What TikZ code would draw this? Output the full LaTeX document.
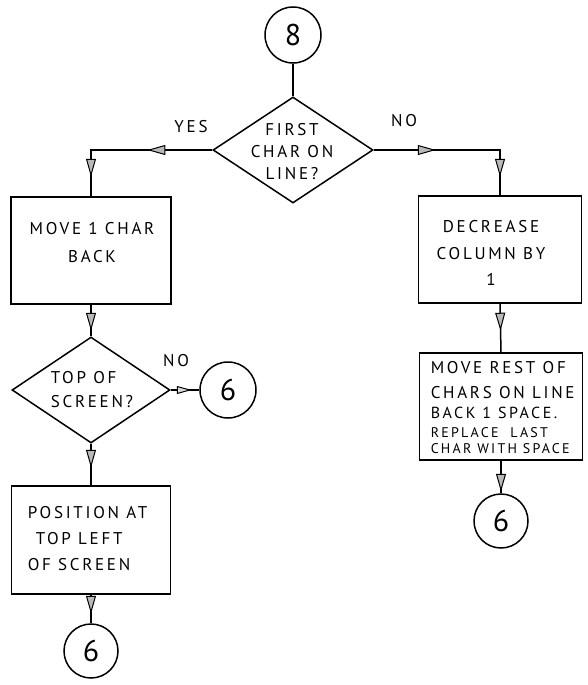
\documentclass[tikz,border=0pt]{standalone}
\usepackage{fontspec}
\setmainfont{PT Sans}[LetterSpace=16]
\usetikzlibrary{shapes.geometric,arrows.meta,decorations.markings}

\tikzset{
  flowtip/.tip={Triangle[length=18pt,width=10pt,line width=1pt,fill=gray!55]},
  smalltip/.tip={Triangle[length=15pt,width=8pt,line width=1pt,fill=gray!30]},
  procbox/.style={draw, rectangle, inner sep=0pt},
  decision/.style={draw, diamond, inner sep=0pt},
  connector/.style={draw, circle, inner sep=0pt, minimum size=#1,
    font=\fontsize{30}{30}\selectfont},
  lettering/.style={inner sep=0pt, font=\fontsize{17}{#1}\selectfont},
  lettering/.default=26pt,
  tag/.style={inner sep=0pt, font=\fontsize{17}{17}\selectfont},
  flow/.style={draw},
  tipat/.style={postaction={decorate},
    decoration={markings, mark=at position #1 with {\arrow{flowtip}}}},
  smalltipat/.style={postaction={decorate},
    decoration={markings, mark=at position #1 with {\arrow{smalltip}}}},
  twotips/.style 2 args={postaction={decorate},
    decoration={markings,
      mark=at position #1 with {\arrow{flowtip}},
      mark=at position #2 with {\arrow{flowtip}}}},
}

\begin{document}
\begin{tikzpicture}[x=1pt, y=-1pt, line width=1.5pt]
  \useasboundingbox (0,0) rectangle (587,685);

  % entry connector and first decision
  \node[connector=56pt] (c8) at (293,35) {8};
  \node[decision, minimum width=160pt, minimum height=106pt] (d1) at (293,150) {};
  \node[lettering=22pt, align=center] (d1t) at (292,152) {FIRST\\CHAR ON\\LINE?};

  % left branch
  \node[procbox, minimum width=160pt, minimum height=107pt] (b1) at (91,250.5) {};
  \node[lettering=28pt, align=center] (b1t) at (92,243) {MOVE 1 CHAR\\BACK};

  \node[decision, minimum width=158pt, minimum height=106pt] (d2) at (91,390) {};
  \node[lettering=24pt, align=left] (d2t) at (92,390) {TOP OF\\SCREEN?};

  \node[connector=56pt] (c6a) at (228,390) {6};

  \node[procbox, minimum width=159pt, minimum height=108pt] (b2) at (91,540) {};
  \node[lettering=26pt, align=left, anchor=west] (b2t) at (27,539)
    {POSITION AT\\\hspace{8pt}TOP LEFT\\OF SCREEN};

  \node[connector=54pt] (c6b) at (91,651) {6};

  % right branch
  \node[procbox, minimum width=163pt, minimum height=107pt] (b3) at (500,249.5) {};
  \node[lettering=26.5pt, align=center] (b3t) at (491,253) {DECREASE\\COLUMN BY\\1};

  \node[procbox, minimum width=163pt, minimum height=107pt] (b4) at (501,406.5) {};
  \node[lettering=25pt, align=left, anchor=west] (b4t) at (430,408)
    {MOVE REST OF\\
     CHARS ON LINE\\[-5pt]
     {\fontsize{16}{16}\selectfont BACK 1 SPACE.}\\[-6pt]
     {\fontsize{14}{14}\selectfont REPLACE\ \ LAST}\\[-9pt]
     {\fontsize{14}{14}\selectfont CHAR WITH SPACE}};

  \node[connector=54pt] (c6c) at (501,521) {6};

  % branch labels
  \node[tag] (yes) at (191,127) {YES};
  \node[tag] (no1) at (404,121) {NO};
  \node[tag] (no2) at (176,361) {NO};

  % connectors
  \draw[flow] (c8) -- (d1.north);
  \draw[flow, twotips={65pt}{148pt}] (d1.west) -| (b1.north);
  \draw[flow, twotips={62pt}{153pt}] (d1.east) -| (b3.north);
  \draw[flow, tipat=26pt] (b1.south) -- (d2.north);
  \draw[flow, smalltipat=21pt] (d2.east) -- (c6a.west);
  \draw[flow, tipat=24pt] (d2.south) -- (b2.north);
  \draw[flow, tipat=19pt] (b2.south) -- (c6b.north);
  \draw[flow, tipat=27pt] (b3.south) -- (b4.north);
  \draw[flow, tipat=31pt] (b4.south) -- (c6c.north);
\end{tikzpicture}
\end{document}
